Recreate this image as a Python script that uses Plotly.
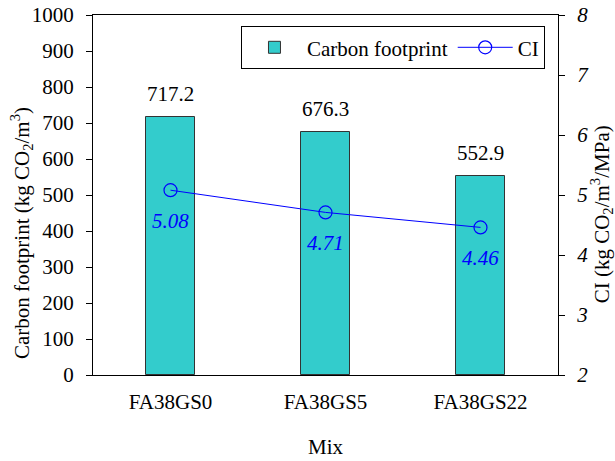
import plotly.graph_objects as go

mixes = ["FA38GS0", "FA38GS5", "FA38GS22"]
carbon_footprint = [717.2, 676.3, 552.9]
ci_values = [5.08, 4.71, 4.46]

FONT = "Times New Roman, Liberation Serif, DejaVu Serif, serif"
FS = 21

fig = go.Figure()
fig.add_trace(go.Bar(
    x=mixes, y=carbon_footprint, name="Carbon footprint",
    marker=dict(color="#33CCCC", line=dict(color="#333333", width=1)),
    width=0.31,
))
fig.add_trace(go.Scatter(
    x=mixes, y=ci_values, name="CI", yaxis="y2", mode="lines+markers",
    line=dict(color="#0000FF", width=1),
    marker=dict(symbol="circle-open", size=13, color="#0000FF", line=dict(width=1.2)),
))
for m, v in zip(mixes, carbon_footprint):
    fig.add_annotation(x=m, y=v, yref="y", text=f"{v:.1f}", showarrow=False,
                       yshift=23, font=dict(family=FONT, size=FS, color="black"))
for m, v in zip(mixes, ci_values):
    fig.add_annotation(x=m, y=v, yref="y2", text=f"{v:.2f}", showarrow=False,
                       yshift=-31, font=dict(family=FONT, size=FS, color="#0000FF", style="italic"))

# axis titles
fig.add_annotation(xref="paper", yref="paper", x=-0.155, y=0.394, xanchor="center", yanchor="middle",
                   textangle=-90, showarrow=False,
                   text="Carbon footprint (kg CO<sub>2</sub>/m<sup>3</sup>)",
                   font=dict(family=FONT, size=FS, color="black"))
fig.add_annotation(xref="paper", yref="paper", x=1.093, y=0.447, xanchor="center", yanchor="middle",
                   textangle=-90, showarrow=False,
                   text="CI (kg CO<sub>2</sub>/m<sup>3</sup>/MPa)",
                   font=dict(family=FONT, size=FS, color="black"))
fig.add_annotation(xref="paper", yref="paper", x=0.5, y=-0.2, xanchor="center", yanchor="middle",
                   showarrow=False, text="Mix",
                   font=dict(family=FONT, size=FS, color="black"))

fig.update_layout(
    width=615, height=461,
    margin=dict(l=93, r=57, t=15, b=86, autoexpand=False),
    paper_bgcolor="white", plot_bgcolor="white",
    font=dict(family=FONT, size=FS, color="black"),
    showlegend=True,
    legend=dict(x=0.972, y=0.969, xanchor="right", yanchor="top", orientation="h",
                bordercolor="black", borderwidth=1, bgcolor="white",
                font=dict(family=FONT, size=FS), tracegroupgap=0,
                itemwidth=55),
    xaxis=dict(range=[-0.5, 2.5], showline=True, linecolor="black", linewidth=1, mirror=True,
               ticks="", ticklabelstandoff=8, automargin=False,
               tickfont=dict(family=FONT, size=FS)),
    yaxis=dict(range=[0, 1000], dtick=100, showline=True, linecolor="black", linewidth=1,
               ticks="outside", ticklen=6, tickcolor="black", showgrid=False, zeroline=False,
               ticklabelstandoff=8, automargin=False,
               tickfont=dict(family=FONT, size=FS)),
    yaxis2=dict(range=[2, 8], dtick=1, overlaying="y", side="right", showline=True,
                linecolor="black", linewidth=1, ticks="outside", ticklen=6, tickcolor="black",
                showgrid=False, zeroline=False, ticklabelstandoff=8, automargin=False,
                tickfont=dict(family=FONT, size=FS, style="italic")),
    bargap=0,
)
fig.write_html("out.html", post_script="document.body.style.margin='0';",
               config={"displayModeBar": False})
